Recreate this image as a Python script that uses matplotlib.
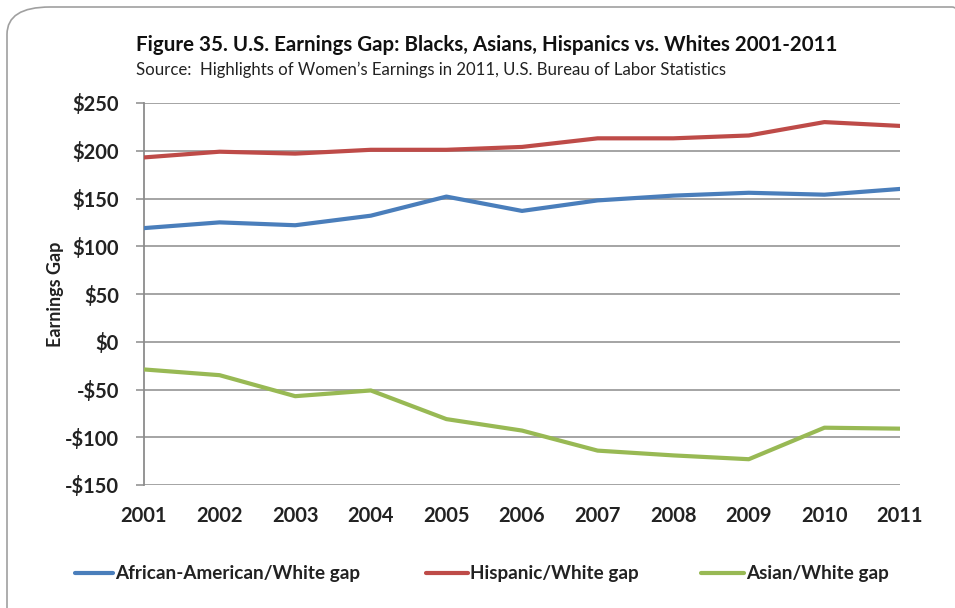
import matplotlib
matplotlib.use("Agg")
import matplotlib.pyplot as plt
from matplotlib.patches import FancyBboxPatch
from matplotlib.lines import Line2D

years = [2001, 2002, 2003, 2004, 2005, 2006, 2007, 2008, 2009, 2010, 2011]
african_american = [119, 125, 122, 132, 152, 137, 148, 153, 156, 154, 160]
hispanic = [193, 199, 197, 201, 201, 204, 213, 213, 216, 230, 226]
asian = [-29, -35, -57, -51, -81, -93, -114, -119, -123, -90, -91]
series_names = ["African-American/White gap", "Hispanic/White gap", "Asian/White gap"]
y_ticks = [250, 200, 150, 100, 50, 0, -50, -100, -150]

colors = ["#4A7EBB", "#BE4B48", "#98B954"]
FONT = ["Lato", "DejaVu Sans"]
plt.rcParams['font.family'] = FONT

fig = plt.figure(figsize=(9.55, 6.08), dpi=100)
ax = fig.add_axes([144/955, 1-485/608, (900-144)/955, (485-103)/608])

for vals, c in zip([african_american, hispanic, asian], colors):
    ax.plot(years, vals, color=c, lw=3.0, solid_capstyle='round', zorder=3)

ax.set_xlim(2001, 2011)
ax.set_ylim(-150, 250)
ax.set_yticks(y_ticks)
ax.set_yticklabels([("-$%d" % abs(v)) if v < 0 else ("$%d" % v) for v in y_ticks],
                   fontsize=14.5, fontweight='bold', color='#222222')
ax.set_xticks(years)
ax.set_xticklabels([str(y) for y in years], fontsize=14.5, fontweight='bold', color='#222222')
ax.grid(axis='y', color='#8C8C8C', lw=1.1, zorder=1)
for s in ['top', 'right', 'bottom']:
    ax.spines[s].set_visible(False)
ax.spines['left'].set_color('#8C8C8C')
ax.spines['left'].set_linewidth(1.3)
ax.tick_params(axis='y', length=6, color='#8C8C8C', width=1.1, pad=12)
ax.tick_params(axis='x', length=0, pad=15)
ax.set_ylabel("Earnings Gap", fontsize=13, fontweight='bold', color='#222222')
ax.yaxis.set_label_coords(-(144-64)/756, 0.5)

fig.text(136/955, 1-45/608, "Figure 35. U.S. Earnings Gap: Blacks, Asians, Hispanics vs. Whites 2001-2011",
         fontsize=14.8, fontweight='bold', color='#111111', va='center', ha='left')
fig.text(136/955, 1-70/608, "Source:  Highlights of Women\u2019s Earnings in 2011, U.S. Bureau of Labor Statistics",
         fontsize=12.1, color='#222222', va='center', ha='left')

# legend
leg_items = [(75, 113, 115), (426, 468, 470), (701, 744, 746)]
for (x0, x1, xt), c, name in zip(leg_items, colors, series_names):
    fig.add_artist(Line2D([x0/955, x1/955], [1-573/608, 1-573/608], color=c, lw=3.0,
                          transform=fig.transFigure, solid_capstyle='round'))
    fig.text(xt/955, 1-573/608, name, fontsize=13.6, fontweight='bold', color='#222222',
             va='center', ha='left')

frame = FancyBboxPatch((7/955, 1-640/608), (995-7)/955, (640-7)/608,
                       boxstyle="round,pad=0,rounding_size=0.045",
                       transform=fig.transFigure, fill=False, edgecolor='#A0A0A0', lw=1.2,
                       clip_on=False)
fig.add_artist(frame)

fig.savefig("out.png", dpi=100)
